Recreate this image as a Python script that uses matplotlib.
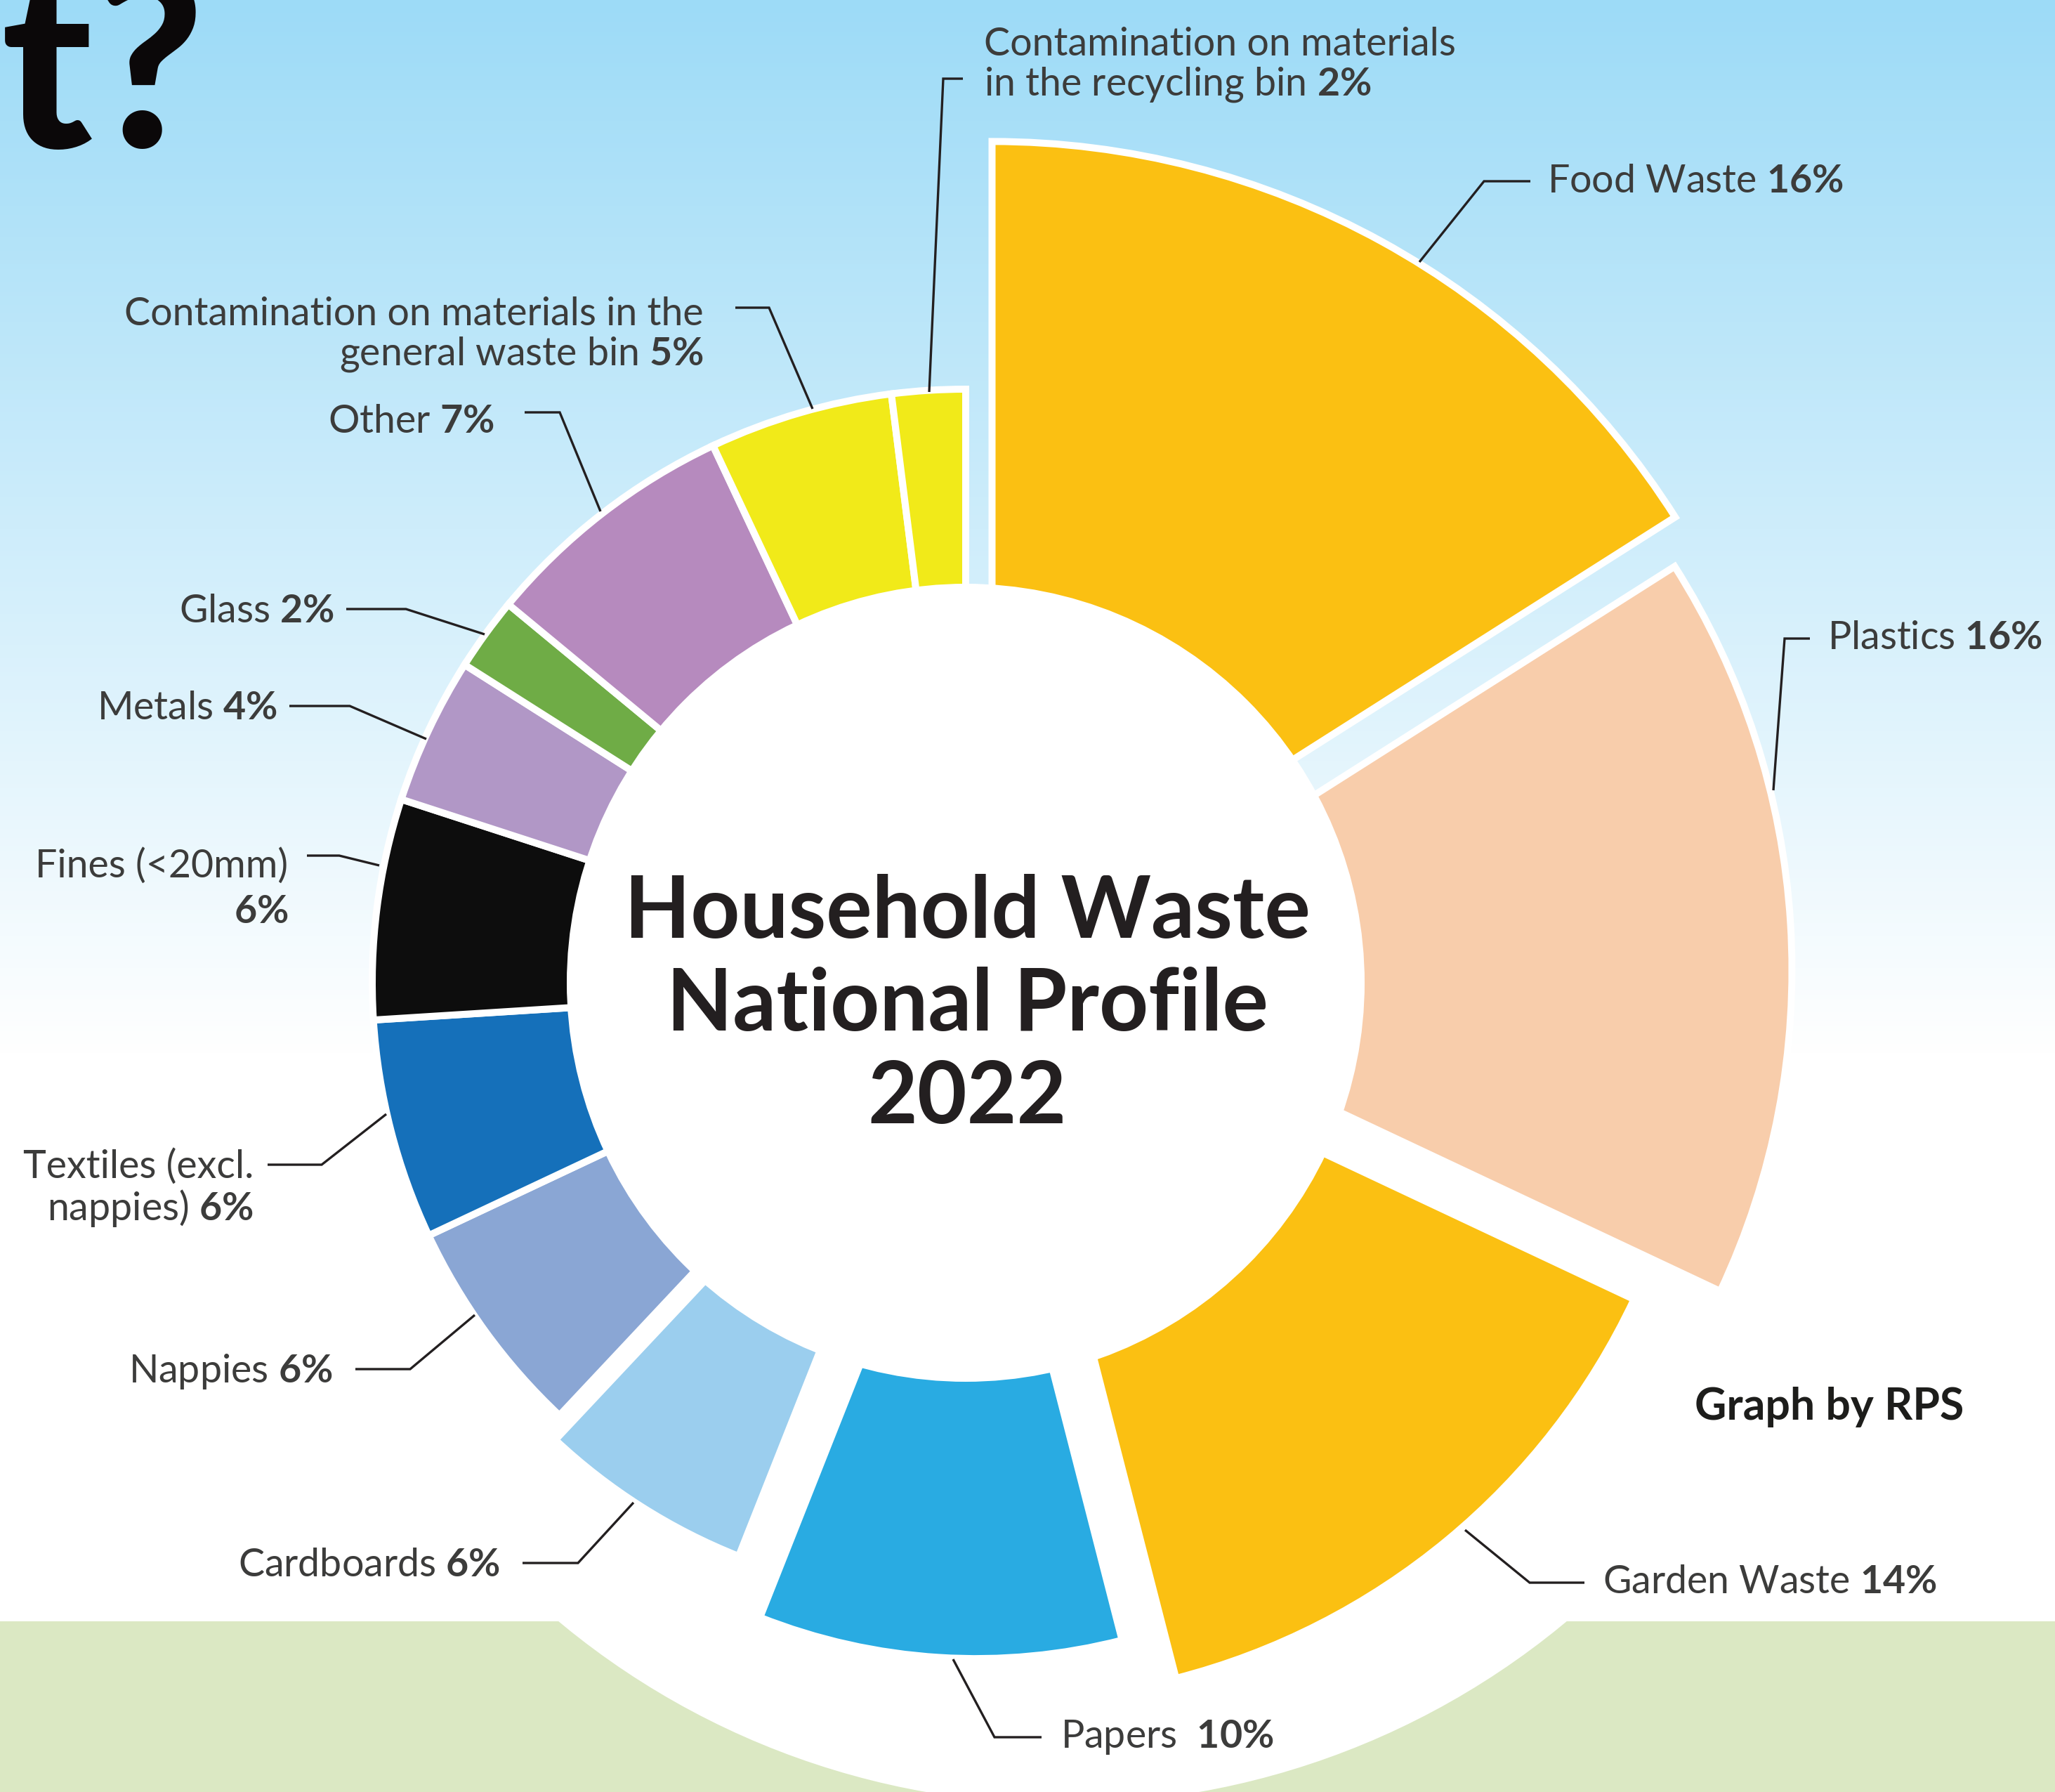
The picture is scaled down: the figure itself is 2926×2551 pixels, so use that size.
import numpy as np
import matplotlib
matplotlib.use("Agg")
import matplotlib.pyplot as plt
from matplotlib.patches import Wedge, Circle, Rectangle

# canvas size in pixels (dpi 100)
W, H = 2926, 2551

# --- data -------------------------------------------------------------
categories = ['Food Waste', 'Plastics', 'Garden Waste', 'Papers', 'Cardboards',
              'Nappies', 'Textiles (excl.\nnappies)', 'Fines (<20mm)', 'Metals',
              'Glass', 'Other',
              'Contamination on materials in the\ngeneral waste bin',
              'Contamination on materials\nin the recycling bin']
shares = [16, 16, 14, 10, 6, 6, 6, 6, 4, 2, 7, 5, 2]
colors = ['#FBC012', '#F8CDAB', '#FBC012', '#29ABE2', '#9BCEEE', '#8AA6D4',
          '#1570BA', '#0D0D0D', '#B197C6', '#6FAC46', '#B68ABE', '#F1EA19', '#F1EA19']

# --- styling of the slices (outer radius and explode shift, px) ---------
outer_r = [1152, 1073, 994, 836, 825, 845, 845, 845, 845, 845, 845, 845, 845]
shift_x = [37.5, 103.5, 52.2, 14.8, -19.5, 0, 0, 0, 0, 0, 0, 0, 0]
shift_y = [-45.6, -17.7, 27.4, 126.1, 49.3, 0, 0, 0, 0, 0, 0, 0, 0]

CX, CY = 1375, 1399      # centre of the ring
R_IN = 568               # white hole

# label anchors + leader lines (image pixels, y down)
layout = [
    dict(xy=(2203, 259), ha='left', line=[(2021, 373), (2113, 258), (2179, 258)]),
    dict(xy=(2602, 909), ha='left', line=[(2525, 1125), (2541, 909), (2577, 909)]),
    dict(xy=(2282, 2253), ha='left', line=[(2086, 2178), (2178, 2253), (2256, 2253)]),
    dict(xy=(1510, 2473), ha='left', line=[(1357, 2362), (1416, 2473), (1483, 2473)]),
    dict(xy=(712, 2229), ha='right', line=[(902, 2139), (823, 2225), (744, 2225)]),
    dict(xy=(473, 1953), ha='right', line=[(676, 1872), (584, 1949), (506, 1949)]),
    dict(xy=(361, 1692), ha='right', line=[(550, 1586), (458, 1658), (381, 1658)]),
    dict(xy=(410, 1265), ha='right', line=[(540, 1232), (483, 1218), (437, 1218)], ls=1.35),
    dict(xy=(395, 1008), ha='right', line=[(607, 1052), (498, 1005), (412, 1005)]),
    dict(xy=(476, 870), ha='right', line=[(690, 903), (578, 867), (493, 867)]),
    dict(xy=(703, 600), ha='right', line=[(855, 728), (797, 587), (747, 587)]),
    dict(xy=(1002, 477), ha='right', line=[(1157, 582), (1095, 438), (1047, 438)]),
    dict(xy=(1401, 93), ha='left', line=[(1323, 558), (1343, 112), (1371, 112)]),
]

plt.rcParams['font.family'] = ['Lato', 'DejaVu Sans']
plt.rcParams['mathtext.fontset'] = 'custom'
plt.rcParams['mathtext.rm'] = 'Lato'
plt.rcParams['mathtext.bf'] = 'Lato:bold'
plt.rcParams['mathtext.it'] = 'Lato:italic'

fig = plt.figure(figsize=(W / 100, H / 100), dpi=100)
ax = fig.add_axes([0, 0, 1, 1])

# sky gradient background
ys = np.linspace(0, H, 400)
t = np.clip(ys / 1500.0, 0, 1)[:, None]
top = np.array([157, 219, 247]) / 255.0
grad = top * (1 - t) + np.ones(3) * t
ax.imshow(grad[:, None, :], extent=(0, W, H, 0), aspect='auto', zorder=0)

# green ground with white disc
ground = Rectangle((0, 2308), W, H - 2308, fc='#DBE8C3', ec='none', zorder=1)
ax.add_patch(ground)
disc = Circle((1513, 1447), 1121, fc='white', ec='none', zorder=1.2)
ax.add_patch(disc)
disc.set_clip_path(ground)

# slices, clockwise from 12 o'clock
total = sum(shares)
start = 90.0
for i, v in enumerate(shares):
    span = 360.0 * v / total
    a_hi, a_lo = start, start - span
    start = a_lo
    # y axis points down, so a screen angle a is data angle -a
    ax.add_patch(Wedge((CX + shift_x[i], CY + shift_y[i]), outer_r[i], -a_hi, -a_lo,
                       fc=colors[i], ec='white', lw=7.2, zorder=3))

ax.add_patch(Circle((CX, CY), R_IN, fc='white', ec='none', zorder=4))

# labels with leader lines
for name, v, lay in zip(categories, shares, layout):
    sep = ' '
    if name == 'Papers':
        sep = '  '
    if name.startswith('Fines'):
        sep = '\n'
    s = name + sep + r'$\mathbf{' + str(v) + r'\%}$'
    xs, ys_ = zip(*lay['line'])
    ax.plot(xs, ys_, color='#231F20', lw=2.4, solid_joinstyle='miter',
            solid_capstyle='butt', zorder=5)
    ax.text(lay['xy'][0], lay['xy'][1], s, ha=lay['ha'], va='center',
            multialignment=lay['ha'], fontsize=40, color='#3C3C3B',
            linespacing=lay.get('ls', 1.1), zorder=6)

# centre title
ax.text(CX + 2, 1432, 'Household Waste\nNational Profile\n2022', ha='center',
        va='center', fontsize=88, fontweight='bold', color='#231F20',
        linespacing=1.22, zorder=6)

ax.text(2413, 2003, 'Graph by RPS', ha='left', va='center', fontsize=45,
        fontweight='bold', color='#1D1D1B', zorder=6)

# cut-off headline at top left
ax.text(292, 210, 't?', ha='right', va='baseline', fontsize=248,
        fontweight='black', color='#0B0809', zorder=6)

ax.set_xlim(0, W)
ax.set_ylim(H, 0)
ax.axis('off')

fig.savefig('out.png', dpi=100)
